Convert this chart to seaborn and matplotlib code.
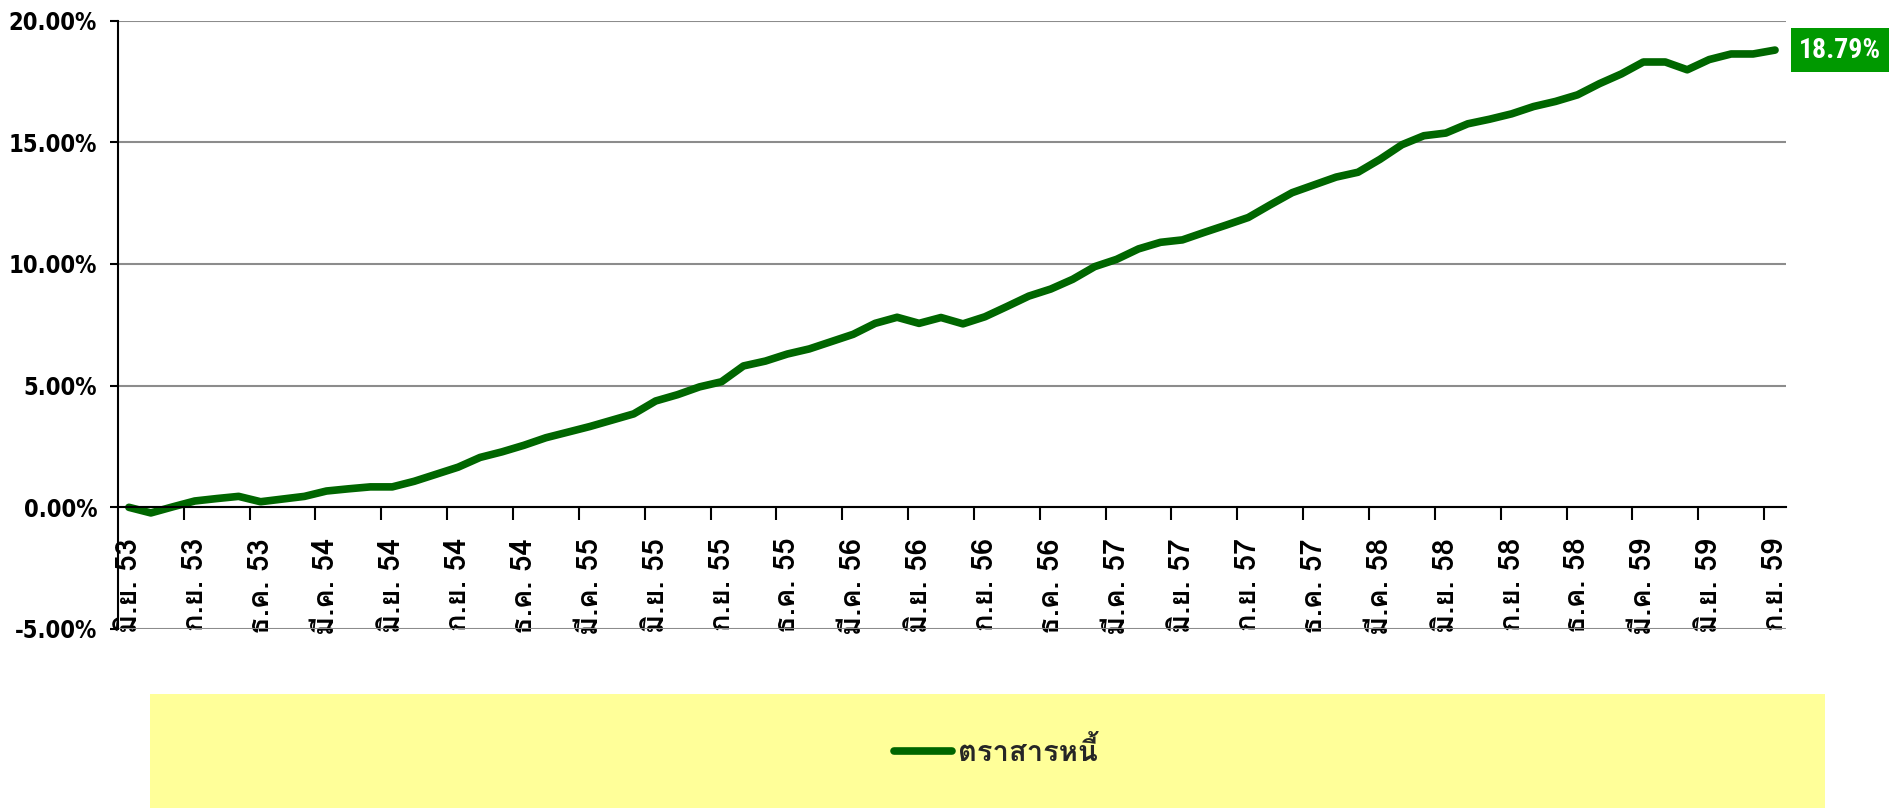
import numpy as np
import pandas as pd
import matplotlib
matplotlib.use("Agg")
import matplotlib.pyplot as plt
import seaborn as sns
from matplotlib import font_manager as fm
from matplotlib.ft2font import FT2Font
from matplotlib.patches import Rectangle

# ---------------- data ----------------
values = [0.00, -0.23, 0.02, 0.26, 0.36, 0.45, 0.23, 0.34, 0.45, 0.67,
          0.76, 0.84, 0.84, 1.07, 1.36, 1.65, 2.05, 2.28, 2.55, 2.86,
          3.09, 3.32, 3.58, 3.84, 4.37, 4.63, 4.95, 5.16, 5.81, 6.01,
          6.30, 6.51, 6.81, 7.11, 7.56, 7.81, 7.56, 7.80, 7.54, 7.83,
          8.25, 8.68, 8.97, 9.37, 9.89, 10.19, 10.62, 10.89, 10.99, 11.30,
          11.60, 11.91, 12.43, 12.93, 13.25, 13.57, 13.77, 14.30, 14.90, 15.27,
          15.38, 15.76, 15.95, 16.17, 16.47, 16.68, 16.95, 17.41, 17.81, 18.30,
          18.30, 17.98, 18.40, 18.63, 18.63, 18.79]
tick_labels = ["มิ.ย. 53", "ก.ย. 53", "ธ.ค. 53", "มี.ค. 54", "มิ.ย. 54", "ก.ย. 54",
               "ธ.ค. 54", "มี.ค. 55", "มิ.ย. 55", "ก.ย. 55", "ธ.ค. 55", "มี.ค. 56",
               "มิ.ย. 56", "ก.ย. 56", "ธ.ค. 56", "มี.ค. 57", "มิ.ย. 57", "ก.ย. 57",
               "ธ.ค. 57", "มี.ค. 58", "มิ.ย. 58", "ก.ย. 58", "ธ.ค. 58", "มี.ค. 59",
               "มิ.ย. 59", "ก.ย. 59"]
y_ticks = [-5, 0, 5, 10, 15, 20]
series_name = "ตราสารหนี้"
end_label = "18.79%"

# ---------------- fonts ----------------
sns.set_theme(style="white")


def has_glyphs(path, chars):
    try:
        cmap = FT2Font(path).get_charmap()
        return all(ord(c) in cmap for c in chars)
    except Exception:
        return False


thai_any = {fe.name for fe in fm.fontManager.ttflist
            if has_glyphs(fe.fname, "ตราสารหนี้มิย")}
preferred = ["Loma", "Sarabun", "IBM Plex Sans Thai Looped", "Noto Sans Thai Looped"]
thai = next((p for p in preferred if p in thai_any),
            sorted(thai_any)[0] if thai_any else "DejaVu Sans")
all_names = {fe.name for fe in fm.fontManager.ttflist}
label_font = "Roboto Condensed" if "Roboto Condensed" in all_names else "DejaVu Sans"

plt.rcParams["font.family"] = [thai, "DejaVu Sans"]
plt.rcParams["font.weight"] = "bold"

# ---------------- figure ----------------
fig = plt.figure(figsize=(18.99, 8.09), dpi=100)
ax = fig.add_axes([0.0621, 0.2225, 0.8784, 0.7520])

df = pd.DataFrame({"month": np.arange(len(values)), "value": values})
sns.lineplot(data=df, x="month", y="value", ax=ax, color="#006600",
             linewidth=5.5, solid_capstyle="round", label=series_name, legend=False)

ax.set_xlim(-0.5, len(values) - 0.5)
ax.set_ylim(y_ticks[0], y_ticks[-1])
ax.set_yticks(y_ticks)
ax.set_yticklabels([f"{v:.2f}%" for v in y_ticks],
                   fontfamily="DejaVu Sans", fontstretch="condensed", fontweight="bold")
ax.yaxis.grid(True, color="#8c8c8c", linewidth=1.5)
ax.set_axisbelow(True)
ax.set_xlabel("")
ax.set_ylabel("")

ax.set_xticks(np.arange(0, len(values), 3))
ax.set_xticklabels(tick_labels, fontweight="bold")
ax.set_xticks(np.arange(2.5, len(values) - 1, 3), minor=True)

for s in ["top", "right"]:
    ax.spines[s].set_visible(False)
ax.spines["bottom"].set_position(("data", 0))
for s in ["left", "bottom"]:
    ax.spines[s].set_color("black")
    ax.spines[s].set_linewidth(1.5)

ax.tick_params(axis="x", which="major", length=0, pad=22, rotation=90,
               labelsize=21, labelcolor="black")
ax.tick_params(axis="x", which="minor", bottom=True, length=9, width=1.5,
               color="black", direction="out")
ax.tick_params(axis="y", which="major", left=True, length=6, width=1.5,
               color="black", pad=9, labelsize=17, labelcolor="black")

# end value label
ax.annotate(end_label, xy=(len(values) - 1, values[-1]), xytext=(24, 0),
            textcoords="offset pixels", ha="left", va="center",
            color="white", fontsize=20, fontweight="bold", family=[label_font, "DejaVu Sans"],
            annotation_clip=False,
            bbox=dict(boxstyle="square,pad=0.3", fc="#009900", ec="none"))

# legend area
fig.patches.append(Rectangle((0.079, 0.001), 0.882, 0.141, transform=fig.transFigure,
                             facecolor="#FFFF99", edgecolor="none", zorder=0))
h, l = ax.get_legend_handles_labels()
fig.legend(h, l, loc="center", bbox_to_anchor=(0.5245, 0.0705), frameon=False,
           prop={"size": 21, "weight": "bold", "family": [thai, "DejaVu Sans"]},
           handlelength=2.0, handletextpad=0.2)

fig.savefig("out.png", dpi=100)
